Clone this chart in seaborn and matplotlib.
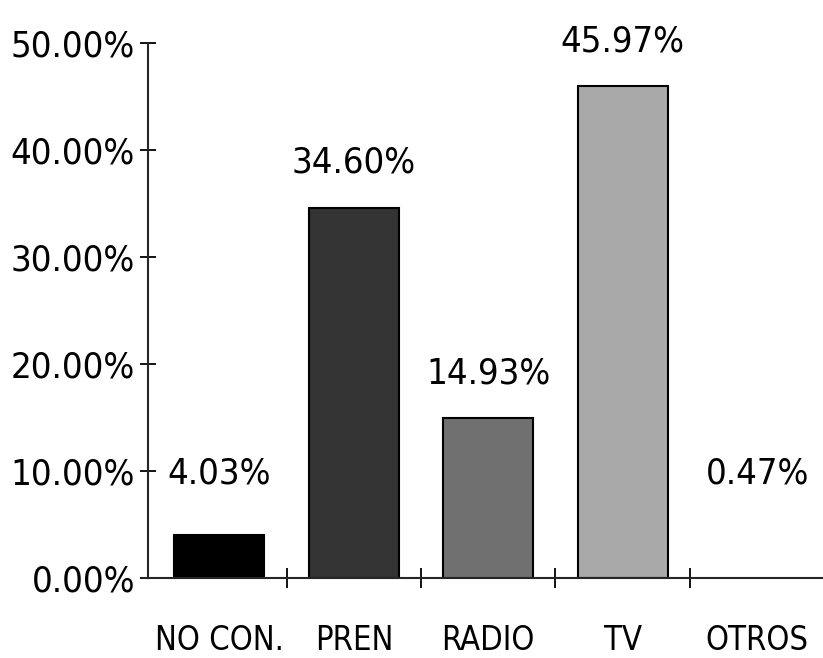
import matplotlib
matplotlib.use("Agg")
import matplotlib.pyplot as plt
from matplotlib import font_manager as fm
from matplotlib.textpath import TextPath
import seaborn as sns
import pandas as pd
from matplotlib.ticker import FixedLocator, FuncFormatter

# datos
categorias = ["NO CON.", "PREN", "RADIO", "TV", "OTROS"]
porcentajes = [4.03, 34.60, 14.93, 45.97, 0.47]
grises = ["#000000", "#333333", "#707070", "#a9a9a9", "#ffffff"]

sns.set_style("white")

# buscar una letra estrecha, como la del original
familia, estiramiento = "DejaVu Sans", "normal"
for f in fm.fontManager.ttflist:
    if ("Narrow" in f.name or "Condensed" in f.name or f.stretch == "condensed") \
            and f.style == "normal" and f.weight in (300, 400, "normal", "light"):
        familia, estiramiento = f.name, f.stretch
        break
plt.rcParams['font.family'] = [familia, 'DejaVu Sans']
plt.rcParams['font.stretch'] = estiramiento
plt.rcParams['text.color'] = 'black'
plt.rcParams['xtick.color'] = 'black'
plt.rcParams['ytick.color'] = 'black'

# tamano de letra para que "50.00%" mida ~120 px de ancho
prop = fm.FontProperties(family=[familia], stretch=estiramiento)
ancho = TextPath((0, 0), "50.00%", size=1, prop=prop).get_extents().width
tam = min(34, 120 * 0.72 / ancho)

df = pd.DataFrame({"cat": categorias, "pct": porcentajes})

fig = plt.figure(figsize=(8.23, 6.58), dpi=100)
ax = fig.add_axes([0.18, 0.1216, 0.82, 0.8131])

sns.barplot(data=df, x="cat", y="pct", hue="cat", palette=grises,
            width=0.67, edgecolor="black", linewidth=1.5, legend=False, ax=ax)
# la barra de OTROS casi no se ve en el original
ax.patches[-1].set_edgecolor("none")

# etiquetas encima de cada barra
for i, v in enumerate(porcentajes):
    ax.annotate(f"{v:.2f}%", (i, max(v, 5.6)), xytext=(0, 20),
                textcoords="offset points", ha="center", va="bottom",
                fontsize=tam)

ax.set_xlim(-0.53, 4.49)
ax.set_ylim(0, 50)
ax.set_xlabel("")
ax.set_ylabel("")

ax.yaxis.set_major_locator(FixedLocator([0, 10, 20, 30, 40, 50]))
ax.yaxis.set_major_formatter(FuncFormatter(lambda v, p: f"{v:.2f}%"))
ax.xaxis.set_minor_locator(FixedLocator([0.5, 1.5, 2.5, 3.5]))

ax.tick_params(axis="y", which="major", direction="inout", length=11,
               width=1.3, labelsize=tam, pad=4, left=True)
ax.tick_params(axis="x", which="major", length=0, labelsize=tam * 0.9, pad=33)
ax.tick_params(axis="x", which="minor", direction="inout", length=14,
               width=1.3, bottom=True)

for s in ["top", "right"]:
    ax.spines[s].set_visible(False)
ax.spines["left"].set_linewidth(1.5)
ax.spines["bottom"].set_linewidth(1.5)
ax.spines["bottom"].set_bounds(-0.57, 4.49)

fig.savefig("out.png", dpi=100)
